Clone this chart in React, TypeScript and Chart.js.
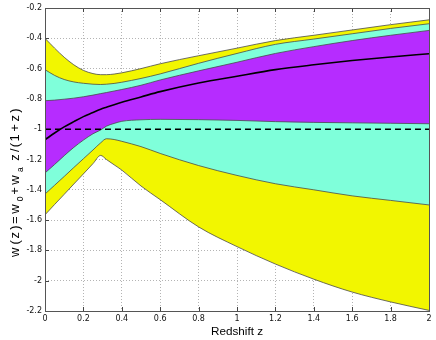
import React, { useEffect, useRef } from "react";
import { Chart, registerables } from "chart.js";

Chart.register(...registerables);

// ---- data ----
const redshift = [0, 0.05, 0.1, 0.15, 0.2, 0.25, 0.29, 0.32, 0.36, 0.4, 0.5, 0.6, 0.8, 1.0, 1.2, 1.4, 1.6, 1.8, 2.0];

const bestFit = [-1.07, -1.025, -0.985, -0.95, -0.917, -0.89, -0.868, -0.855, -0.838, -0.822, -0.787, -0.752, -0.695, -0.65, -0.607, -0.575, -0.547, -0.523, -0.502];

const innerUpper = [-0.812, -0.808, -0.802, -0.795, -0.786, -0.775, -0.765, -0.758, -0.748, -0.738, -0.71, -0.675, -0.615, -0.558, -0.5, -0.455, -0.415, -0.38, -0.348];
const innerLower = [-1.289, -1.233, -1.175, -1.12, -1.072, -1.03, -1.005, -0.98, -0.962, -0.948, -0.938, -0.935, -0.937, -0.942, -0.95, -0.955, -0.958, -0.961, -0.964];

const middleUpper = [-0.607, -0.645, -0.672, -0.688, -0.697, -0.703, -0.705, -0.703, -0.698, -0.69, -0.665, -0.635, -0.565, -0.5, -0.44, -0.405, -0.37, -0.335, -0.304];
const middleLower = [-1.428, -1.37, -1.312, -1.253, -1.195, -1.137, -1.09, -1.063, -1.068, -1.08, -1.115, -1.16, -1.24, -1.305, -1.36, -1.4, -1.44, -1.47, -1.5];

const outerUpper = [-0.4, -0.465, -0.525, -0.575, -0.612, -0.633, -0.64, -0.64, -0.636, -0.628, -0.6, -0.568, -0.515, -0.465, -0.415, -0.38, -0.345, -0.31, -0.278];
const outerLower = [-1.565, -1.497, -1.43, -1.362, -1.295, -1.227, -1.173, -1.2, -1.235, -1.27, -1.375, -1.465, -1.645, -1.775, -1.89, -1.99, -2.075, -2.14, -2.196];

const lambdaZ = [0, 2];
const lambdaW = [-1, -1];

const X_MIN = 0;
const X_MAX = 2;
const Y_MIN = -2.2;
const Y_MAX = -0.2;
const TICK_STEP = 0.2;

const xTitle = "Redshift z";

// ---- styles ----
const YELLOW = "rgb(242,246,0)";
const CYAN = "rgb(127,255,218)";
const PURPLE = "rgb(182,44,255)";
const EDGE = "#4a4a4a";
const TICK_FONT = { family: "'DejaVu Sans'", size: 8 };

function pts(xs: number[], ys: number[]) {
  return xs.map((x, i) => ({ x, y: ys[i] }));
}

function edgeSet(data: number[], fill: any, color: string) {
  return {
    data: pts(redshift, data),
    borderColor: EDGE,
    borderWidth: 0.8,
    backgroundColor: color,
    fill,
    pointRadius: 0,
    cubicInterpolationMode: "monotone",
  };
}

const fmt = (v: any) => String(Math.round(Number(v) * 10) / 10);

const framePlugin = {
  id: "matlabFrame",
  beforeDatasetsDraw(chart: any) {
    const { ctx, chartArea: a, scales } = chart;
    ctx.save();
    ctx.strokeStyle = "#444";
    ctx.lineWidth = 1;
    ctx.beginPath();
    scales.x.ticks.forEach((t: any) => {
      const px = Math.round(scales.x.getPixelForValue(t.value)) + 0.5;
      ctx.moveTo(px, a.bottom);
      ctx.lineTo(px, a.bottom - 4);
      ctx.moveTo(px, a.top);
      ctx.lineTo(px, a.top + 4);
    });
    scales.y.ticks.forEach((t: any) => {
      const py = Math.round(scales.y.getPixelForValue(t.value)) + 0.5;
      ctx.moveTo(a.left, py);
      ctx.lineTo(a.left + 4, py);
      ctx.moveTo(a.right, py);
      ctx.lineTo(a.right - 4, py);
    });
    ctx.stroke();
    ctx.restore();
  },
  afterDraw(chart: any) {
    const { ctx, chartArea: a } = chart;
    ctx.save();
    // box
    ctx.strokeStyle = "#555";
    ctx.lineWidth = 1;
    ctx.strokeRect(Math.round(a.left) + 0.5, Math.round(a.top) + 0.5, Math.round(a.right - a.left), Math.round(a.bottom - a.top));

    // x title
    ctx.fillStyle = "#000";
    ctx.font = "11.7px 'Liberation Sans'";
    ctx.textAlign = "center";
    ctx.textBaseline = "alphabetic";
    ctx.fillText(xTitle, (a.left + a.right) / 2, 335);

    // y title with subscripts
    const segs = [
      { t: "w(z)=w", s: 13, dy: 0 },
      { t: "0", s: 8.5, dy: 4.5 },
      { t: "+w", s: 13, dy: 0 },
      { t: "a", s: 8.5, dy: 4.5 },
      { t: " z/(1+z)", s: 13, dy: 0 },
    ];
    const chars: { c: string; s: number; dy: number; w: number }[] = [];
    segs.forEach((seg) => {
      ctx.font = `${seg.s}px 'Liberation Sans'`;
      for (const c of seg.t) chars.push({ c, s: seg.s, dy: seg.dy, w: ctx.measureText(c).width });
    });
    const natural = chars.reduce((acc, c) => acc + c.w, 0);
    const span = 150;
    const k = span / natural;
    ctx.translate(18.5, 182 + span / 2);
    ctx.rotate(-Math.PI / 2);
    ctx.textAlign = "left";
    let x = 0;
    chars.forEach((ch) => {
      ctx.font = `${ch.s}px 'Liberation Sans'`;
      ctx.fillText(ch.c, x, ch.dy);
      x += ch.w * k;
    });
    ctx.restore();
  },
};

export default function App() {
  const ref = useRef<HTMLCanvasElement | null>(null);

  useEffect(() => {
    document.body.style.margin = "0";
    const canvas = ref.current;
    if (!canvas) return;
    const chart = new Chart(canvas, {
      type: "line",
      data: {
        datasets: [
          {
            data: pts(redshift, bestFit),
            borderColor: "#000",
            borderWidth: 1.6,
            pointRadius: 0,
            fill: false,
            cubicInterpolationMode: "monotone",
          },
          {
            data: pts(lambdaZ, lambdaW),
            borderColor: "#000",
            borderWidth: 1.6,
            borderDash: [6, 4],
            pointRadius: 0,
            fill: false,
          },
          edgeSet(innerLower, false, PURPLE),
          edgeSet(innerUpper, "-1", PURPLE),
          edgeSet(middleLower, false, CYAN),
          edgeSet(middleUpper, "-1", CYAN),
          edgeSet(outerLower, false, YELLOW),
          edgeSet(outerUpper, "-1", YELLOW),
        ] as any,
      },
      options: {
        animation: false,
        responsive: false,
        devicePixelRatio: 1,
        layout: { padding: { top: 8, right: 7, left: 0, bottom: 0 } },
        plugins: { legend: { display: false }, tooltip: { enabled: false } },
        scales: {
          x: {
            type: "linear",
            min: X_MIN,
            max: X_MAX,
            ticks: { stepSize: TICK_STEP, font: TICK_FONT, color: "#111", padding: 3, callback: fmt, maxRotation: 0 },
            grid: { color: "#b4b4b4", lineWidth: 1, drawTicks: false },
            border: { display: false, dash: [1, 2] },
            afterFit: (s: any) => {
              s.height = 29;
            },
          },
          y: {
            type: "linear",
            min: Y_MIN,
            max: Y_MAX,
            ticks: { stepSize: TICK_STEP, font: TICK_FONT, color: "#111", padding: 3, callback: fmt },
            grid: { color: "#b4b4b4", lineWidth: 1, drawTicks: false },
            border: { display: false, dash: [1, 2] },
            afterFit: (s: any) => {
              s.width = 45;
            },
          },
        },
      } as any,
      plugins: [framePlugin],
    });
    return () => chart.destroy();
  }, []);

  return (
    <div style={{ width: 436, height: 340 }}>
      <canvas ref={ref} width={436} height={340} style={{ display: "block", width: 436, height: 340 }} />
    </div>
  );
}
